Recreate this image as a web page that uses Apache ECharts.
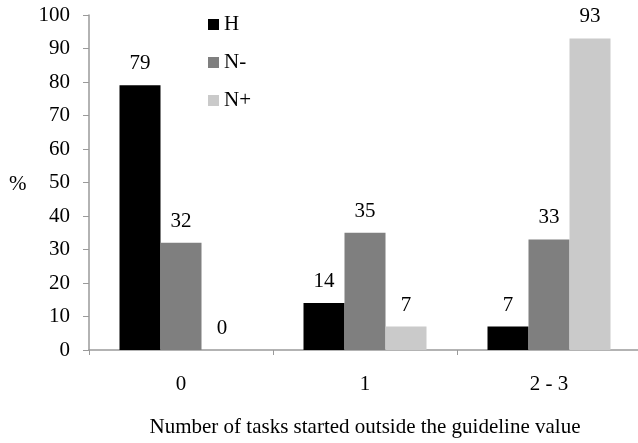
<!DOCTYPE html>
<html><head><meta charset="utf-8">
<script src="https://cdn.jsdelivr.net/npm/echarts@6/dist/echarts.min.js"></script>
<style>html,body{margin:0;padding:0;background:#fff}#c{width:638px;height:443px}</style>
</head><body><div id="c"></div>
<script>
const categories = ['0', '1', '2 - 3'];
const seriesNames = ['H', 'N-', 'N+'];
const valuesH = [79, 14, 7];
const valuesNminus = [32, 35, 33];
const valuesNplus = [0, 7, 93];
const yTicks = [0, 10, 20, 30, 40, 50, 60, 70, 80, 90, 100];

const colors = ['#000000', '#7f7f7f', '#cacaca'];
const font = 'Liberation Serif';
const fs = 21;
const chart = echarts.init(document.getElementById('c'));
const mk = (name, data, i) => ({
  name, type: 'bar', data, barWidth: 41, barGap: '0%',
  itemStyle: { color: colors[i] },
  label: { show: true, position: 'top', distance: 11, color: '#000', fontFamily: font, fontSize: fs }
});
chart.setOption({
  animation: false,
  backgroundColor: '#fff',
  textStyle: { fontFamily: font },
  grid: { left: 89, top: 15, width: 552, height: 335, containLabel: false, outerBoundsMode: 'none' },
  legend: {
    orient: 'vertical', left: 203, top: 9, itemWidth: 11, itemHeight: 11, itemGap: 17,
    icon: 'rect',
    textStyle: { fontFamily: font, fontSize: fs, color: '#000' },
    data: seriesNames
  },
  graphic: [{ type: 'text', left: 9, top: 174, style: { text: '%', font: fs + 'px "Liberation Serif"', fill: '#000' } }],
  xAxis: {
    type: 'category', data: categories,
    name: 'Number of tasks started outside the guideline value',
    nameLocation: 'middle', nameGap: 67,
    nameTextStyle: { fontFamily: font, fontSize: fs, color: '#000' },
    axisLine: { lineStyle: { color: '#9a9a9a', width: 1.5 } },
    axisTick: { show: true, length: 5, lineStyle: { color: '#9a9a9a' } },
    axisLabel: { margin: 24, fontFamily: font, fontSize: fs, color: '#000' }
  },
  yAxis: {
    type: 'value', min: yTicks[0], max: yTicks[yTicks.length - 1], interval: 10,
    axisLine: { show: true, lineStyle: { color: '#9a9a9a', width: 1.5 } },
    axisTick: { show: true, length: 6, lineStyle: { color: '#9a9a9a' } },
    splitLine: { show: false },
    axisLabel: { margin: 19, fontFamily: font, fontSize: fs, color: '#000' }
  },
  series: [mk('H', valuesH, 0), mk('N-', valuesNminus, 1), mk('N+', valuesNplus, 2)]
});
</script></body></html>
